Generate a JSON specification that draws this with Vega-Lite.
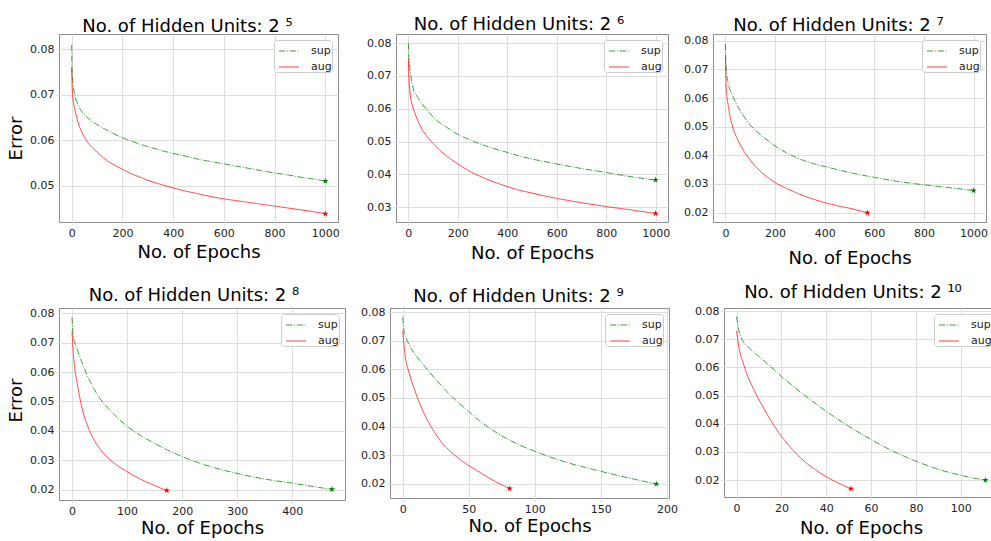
{
  "$schema": "https://vega.github.io/schema/vega-lite/v6.json",
  "padding": {"left": 7, "top": 15, "right": 0, "bottom": 0},
  "config": {
    "font": "DejaVu Sans",
    "view": {"stroke": "#8c8c8c", "strokeWidth": 1},
    "axis": {
      "domain": false,
      "grid": true,
      "gridColor": "#dedede",
      "gridWidth": 1,
      "ticks": true,
      "tickColor": "#dedede",
      "tickSize": 3,
      "tickCount": 12,
      "labelFontSize": 11,
      "labelColor": "#222222",
      "labelPadding": 2,
      "labelOverlap": false,
      "titleFontSize": 18,
      "titleFontWeight": "normal",
      "titleColor": "#000000"
    },
    "axisX": {"format": "d"},
    "axisY": {"titlePadding": 4, "format": ".2f"},
    "title": {"fontSize": 18, "fontWeight": "normal", "color": "#000000", "anchor": "middle", "frame": "group", "baseline": "alphabetic"},
    "legend": {
      "orient": "top-right",
      "offset": 6,
      "padding": 0,
      "rowPadding": -6,
      "symbolOffset": 4,
      "fillColor": "#ffffff",
      "strokeColor": "#cccccc",
      "cornerRadius": 3,
      "labelFontSize": 11,
      "labelColor": "#222222",
      "labelOffset": 11,
      "labelExpr": "datum.label + '  '",
      "symbolSize": 400,
      "symbolStrokeWidth": 1.2,
      "symbolOpacity": 0.75
    }
  },
  "datasets": {
    "p1": [
      {"epoch": 0, "error": 0.0810, "series": "sup"}, {"epoch": 2, "error": 0.0745, "series": "sup"}, {"epoch": 5, "error": 0.0725, "series": "sup"}, {"epoch": 10, "error": 0.0706, "series": "sup"}, {"epoch": 15, "error": 0.0693, "series": "sup"}, {"epoch": 20, "error": 0.0685, "series": "sup"}, {"epoch": 30, "error": 0.0672, "series": "sup"}, {"epoch": 46, "error": 0.0659, "series": "sup"}, {"epoch": 70, "error": 0.0646, "series": "sup"}, {"epoch": 111, "error": 0.0631, "series": "sup"}, {"epoch": 150, "error": 0.0619, "series": "sup"}, {"epoch": 190, "error": 0.0608, "series": "sup"}, {"epoch": 250, "error": 0.0595, "series": "sup"}, {"epoch": 300, "error": 0.0586, "series": "sup"}, {"epoch": 350, "error": 0.0578, "series": "sup"}, {"epoch": 400, "error": 0.0571, "series": "sup"}, {"epoch": 450, "error": 0.0565, "series": "sup"}, {"epoch": 500, "error": 0.0558, "series": "sup"}, {"epoch": 550, "error": 0.0553, "series": "sup"}, {"epoch": 600, "error": 0.0548, "series": "sup"}, {"epoch": 650, "error": 0.0543, "series": "sup"}, {"epoch": 700, "error": 0.0538, "series": "sup"}, {"epoch": 750, "error": 0.0533, "series": "sup"}, {"epoch": 800, "error": 0.0528, "series": "sup"}, {"epoch": 850, "error": 0.0524, "series": "sup"}, {"epoch": 900, "error": 0.0519, "series": "sup"}, {"epoch": 950, "error": 0.0515, "series": "sup"}, {"epoch": 1000, "error": 0.0510, "series": "sup"},
      {"epoch": 0, "error": 0.0760, "series": "aug"}, {"epoch": 2, "error": 0.0715, "series": "aug"}, {"epoch": 4, "error": 0.0696, "series": "aug"}, {"epoch": 8, "error": 0.0680, "series": "aug"}, {"epoch": 13, "error": 0.0666, "series": "aug"}, {"epoch": 20, "error": 0.0650, "series": "aug"}, {"epoch": 26, "error": 0.0637, "series": "aug"}, {"epoch": 35, "error": 0.0624, "series": "aug"}, {"epoch": 46, "error": 0.0611, "series": "aug"}, {"epoch": 60, "error": 0.0598, "series": "aug"}, {"epoch": 72, "error": 0.0589, "series": "aug"}, {"epoch": 98, "error": 0.0575, "series": "aug"}, {"epoch": 120, "error": 0.0564, "series": "aug"}, {"epoch": 137, "error": 0.0556, "series": "aug"}, {"epoch": 170, "error": 0.0545, "series": "aug"}, {"epoch": 200, "error": 0.0536, "series": "aug"}, {"epoch": 250, "error": 0.0523, "series": "aug"}, {"epoch": 300, "error": 0.0512, "series": "aug"}, {"epoch": 350, "error": 0.0503, "series": "aug"}, {"epoch": 400, "error": 0.0495, "series": "aug"}, {"epoch": 450, "error": 0.0488, "series": "aug"}, {"epoch": 500, "error": 0.0482, "series": "aug"}, {"epoch": 550, "error": 0.0476, "series": "aug"}, {"epoch": 600, "error": 0.0471, "series": "aug"}, {"epoch": 650, "error": 0.0467, "series": "aug"}, {"epoch": 700, "error": 0.0463, "series": "aug"}, {"epoch": 750, "error": 0.0459, "series": "aug"}, {"epoch": 800, "error": 0.0455, "series": "aug"}, {"epoch": 850, "error": 0.0451, "series": "aug"}, {"epoch": 900, "error": 0.0447, "series": "aug"}, {"epoch": 950, "error": 0.0443, "series": "aug"}, {"epoch": 1000, "error": 0.0438, "series": "aug"}
    ],
    "p2": [
      {"epoch": 0, "error": 0.0800, "series": "sup"}, {"epoch": 2, "error": 0.0760, "series": "sup"}, {"epoch": 5, "error": 0.0732, "series": "sup"}, {"epoch": 10, "error": 0.0700, "series": "sup"}, {"epoch": 20, "error": 0.0661, "series": "sup"}, {"epoch": 35, "error": 0.0638, "series": "sup"}, {"epoch": 50, "error": 0.0621, "series": "sup"}, {"epoch": 75, "error": 0.0597, "series": "sup"}, {"epoch": 100, "error": 0.0575, "series": "sup"}, {"epoch": 150, "error": 0.0546, "series": "sup"}, {"epoch": 200, "error": 0.0522, "series": "sup"}, {"epoch": 250, "error": 0.0505, "series": "sup"}, {"epoch": 300, "error": 0.0490, "series": "sup"}, {"epoch": 350, "error": 0.0478, "series": "sup"}, {"epoch": 400, "error": 0.0467, "series": "sup"}, {"epoch": 450, "error": 0.0456, "series": "sup"}, {"epoch": 500, "error": 0.0447, "series": "sup"}, {"epoch": 600, "error": 0.0432, "series": "sup"}, {"epoch": 700, "error": 0.0418, "series": "sup"}, {"epoch": 800, "error": 0.0406, "series": "sup"}, {"epoch": 900, "error": 0.0393, "series": "sup"}, {"epoch": 1000, "error": 0.0383, "series": "sup"},
      {"epoch": 0, "error": 0.0752, "series": "aug"}, {"epoch": 3, "error": 0.0682, "series": "aug"}, {"epoch": 6, "error": 0.0655, "series": "aug"}, {"epoch": 10, "error": 0.0631, "series": "aug"}, {"epoch": 17, "error": 0.0608, "series": "aug"}, {"epoch": 25, "error": 0.0590, "series": "aug"}, {"epoch": 35, "error": 0.0570, "series": "aug"}, {"epoch": 50, "error": 0.0545, "series": "aug"}, {"epoch": 75, "error": 0.0516, "series": "aug"}, {"epoch": 100, "error": 0.0494, "series": "aug"}, {"epoch": 125, "error": 0.0475, "series": "aug"}, {"epoch": 150, "error": 0.0459, "series": "aug"}, {"epoch": 175, "error": 0.0445, "series": "aug"}, {"epoch": 200, "error": 0.0432, "series": "aug"}, {"epoch": 250, "error": 0.0409, "series": "aug"}, {"epoch": 300, "error": 0.0391, "series": "aug"}, {"epoch": 350, "error": 0.0376, "series": "aug"}, {"epoch": 400, "error": 0.0363, "series": "aug"}, {"epoch": 450, "error": 0.0352, "series": "aug"}, {"epoch": 500, "error": 0.0343, "series": "aug"}, {"epoch": 600, "error": 0.0327, "series": "aug"}, {"epoch": 700, "error": 0.0314, "series": "aug"}, {"epoch": 800, "error": 0.0302, "series": "aug"}, {"epoch": 900, "error": 0.0292, "series": "aug"}, {"epoch": 1000, "error": 0.0281, "series": "aug"}
    ],
    "p3": [
      {"epoch": 0, "error": 0.0790, "series": "sup"}, {"epoch": 2, "error": 0.0720, "series": "sup"}, {"epoch": 5, "error": 0.0687, "series": "sup"}, {"epoch": 12, "error": 0.0650, "series": "sup"}, {"epoch": 25, "error": 0.0617, "series": "sup"}, {"epoch": 50, "error": 0.0570, "series": "sup"}, {"epoch": 75, "error": 0.0535, "series": "sup"}, {"epoch": 100, "error": 0.0506, "series": "sup"}, {"epoch": 150, "error": 0.0466, "series": "sup"}, {"epoch": 200, "error": 0.0433, "series": "sup"}, {"epoch": 250, "error": 0.0407, "series": "sup"}, {"epoch": 300, "error": 0.0387, "series": "sup"}, {"epoch": 350, "error": 0.0372, "series": "sup"}, {"epoch": 400, "error": 0.0361, "series": "sup"}, {"epoch": 450, "error": 0.0350, "series": "sup"}, {"epoch": 500, "error": 0.0340, "series": "sup"}, {"epoch": 600, "error": 0.0323, "series": "sup"}, {"epoch": 700, "error": 0.0308, "series": "sup"}, {"epoch": 800, "error": 0.0297, "series": "sup"}, {"epoch": 900, "error": 0.0287, "series": "sup"}, {"epoch": 1000, "error": 0.0277, "series": "sup"},
      {"epoch": 0, "error": 0.0745, "series": "aug"}, {"epoch": 3, "error": 0.0640, "series": "aug"}, {"epoch": 6, "error": 0.0605, "series": "aug"}, {"epoch": 10, "error": 0.0582, "series": "aug"}, {"epoch": 17, "error": 0.0543, "series": "aug"}, {"epoch": 25, "error": 0.0512, "series": "aug"}, {"epoch": 35, "error": 0.0484, "series": "aug"}, {"epoch": 50, "error": 0.0454, "series": "aug"}, {"epoch": 75, "error": 0.0414, "series": "aug"}, {"epoch": 100, "error": 0.0384, "series": "aug"}, {"epoch": 125, "error": 0.0358, "series": "aug"}, {"epoch": 150, "error": 0.0337, "series": "aug"}, {"epoch": 175, "error": 0.0320, "series": "aug"}, {"epoch": 200, "error": 0.0305, "series": "aug"}, {"epoch": 250, "error": 0.0283, "series": "aug"}, {"epoch": 300, "error": 0.0264, "series": "aug"}, {"epoch": 350, "error": 0.0248, "series": "aug"}, {"epoch": 400, "error": 0.0235, "series": "aug"}, {"epoch": 450, "error": 0.0224, "series": "aug"}, {"epoch": 500, "error": 0.0215, "series": "aug"}, {"epoch": 572, "error": 0.0199, "series": "aug"}
    ],
    "p4": [
      {"epoch": 0, "error": 0.0785, "series": "sup"}, {"epoch": 2, "error": 0.0724, "series": "sup"}, {"epoch": 5, "error": 0.0700, "series": "sup"}, {"epoch": 10, "error": 0.0674, "series": "sup"}, {"epoch": 17, "error": 0.0637, "series": "sup"}, {"epoch": 25, "error": 0.0600, "series": "sup"}, {"epoch": 35, "error": 0.0560, "series": "sup"}, {"epoch": 50, "error": 0.0512, "series": "sup"}, {"epoch": 75, "error": 0.0459, "series": "sup"}, {"epoch": 100, "error": 0.0416, "series": "sup"}, {"epoch": 125, "error": 0.0384, "series": "sup"}, {"epoch": 150, "error": 0.0358, "series": "sup"}, {"epoch": 175, "error": 0.0334, "series": "sup"}, {"epoch": 200, "error": 0.0313, "series": "sup"}, {"epoch": 250, "error": 0.0280, "series": "sup"}, {"epoch": 300, "error": 0.0256, "series": "sup"}, {"epoch": 350, "error": 0.0237, "series": "sup"}, {"epoch": 400, "error": 0.0223, "series": "sup"}, {"epoch": 440, "error": 0.0211, "series": "sup"}, {"epoch": 472, "error": 0.0202, "series": "sup"},
      {"epoch": 0, "error": 0.0737, "series": "aug"}, {"epoch": 3, "error": 0.0650, "series": "aug"}, {"epoch": 5, "error": 0.0612, "series": "aug"}, {"epoch": 10, "error": 0.0555, "series": "aug"}, {"epoch": 15, "error": 0.0505, "series": "aug"}, {"epoch": 20, "error": 0.0465, "series": "aug"}, {"epoch": 30, "error": 0.0409, "series": "aug"}, {"epoch": 40, "error": 0.0370, "series": "aug"}, {"epoch": 50, "error": 0.0341, "series": "aug"}, {"epoch": 62, "error": 0.0315, "series": "aug"}, {"epoch": 75, "error": 0.0293, "series": "aug"}, {"epoch": 87, "error": 0.0277, "series": "aug"}, {"epoch": 100, "error": 0.0262, "series": "aug"}, {"epoch": 125, "error": 0.0236, "series": "aug"}, {"epoch": 150, "error": 0.0215, "series": "aug"}, {"epoch": 172, "error": 0.0198, "series": "aug"}
    ],
    "p5": [
      {"epoch": 0, "error": 0.0782, "series": "sup"}, {"epoch": 1, "error": 0.0736, "series": "sup"}, {"epoch": 3, "error": 0.0705, "series": "sup"}, {"epoch": 5, "error": 0.0684, "series": "sup"}, {"epoch": 10, "error": 0.0649, "series": "sup"}, {"epoch": 15, "error": 0.0620, "series": "sup"}, {"epoch": 20, "error": 0.0592, "series": "sup"}, {"epoch": 30, "error": 0.0539, "series": "sup"}, {"epoch": 40, "error": 0.0493, "series": "sup"}, {"epoch": 50, "error": 0.0453, "series": "sup"}, {"epoch": 60, "error": 0.0414, "series": "sup"}, {"epoch": 75, "error": 0.0368, "series": "sup"}, {"epoch": 90, "error": 0.0333, "series": "sup"}, {"epoch": 100, "error": 0.0314, "series": "sup"}, {"epoch": 125, "error": 0.0274, "series": "sup"}, {"epoch": 150, "error": 0.0244, "series": "sup"}, {"epoch": 175, "error": 0.0217, "series": "sup"}, {"epoch": 192, "error": 0.0200, "series": "sup"},
      {"epoch": 0, "error": 0.0735, "series": "aug"}, {"epoch": 2, "error": 0.0644, "series": "aug"}, {"epoch": 5, "error": 0.0586, "series": "aug"}, {"epoch": 10, "error": 0.0516, "series": "aug"}, {"epoch": 15, "error": 0.0458, "series": "aug"}, {"epoch": 20, "error": 0.0412, "series": "aug"}, {"epoch": 25, "error": 0.0374, "series": "aug"}, {"epoch": 30, "error": 0.0342, "series": "aug"}, {"epoch": 35, "error": 0.0318, "series": "aug"}, {"epoch": 40, "error": 0.0298, "series": "aug"}, {"epoch": 45, "error": 0.0280, "series": "aug"}, {"epoch": 50, "error": 0.0264, "series": "aug"}, {"epoch": 55, "error": 0.0250, "series": "aug"}, {"epoch": 60, "error": 0.0236, "series": "aug"}, {"epoch": 65, "error": 0.0222, "series": "aug"}, {"epoch": 70, "error": 0.0209, "series": "aug"}, {"epoch": 75, "error": 0.0197, "series": "aug"}, {"epoch": 81, "error": 0.0184, "series": "aug"}
    ],
    "p6": [
      {"epoch": 0, "error": 0.0780, "series": "sup"}, {"epoch": 1, "error": 0.0733, "series": "sup"}, {"epoch": 3, "error": 0.0692, "series": "sup"}, {"epoch": 5, "error": 0.0674, "series": "sup"}, {"epoch": 10, "error": 0.0639, "series": "sup"}, {"epoch": 15, "error": 0.0604, "series": "sup"}, {"epoch": 20, "error": 0.0568, "series": "sup"}, {"epoch": 25, "error": 0.0535, "series": "sup"}, {"epoch": 30, "error": 0.0503, "series": "sup"}, {"epoch": 35, "error": 0.0473, "series": "sup"}, {"epoch": 40, "error": 0.0444, "series": "sup"}, {"epoch": 45, "error": 0.0417, "series": "sup"}, {"epoch": 50, "error": 0.0391, "series": "sup"}, {"epoch": 55, "error": 0.0367, "series": "sup"}, {"epoch": 60, "error": 0.0344, "series": "sup"}, {"epoch": 65, "error": 0.0322, "series": "sup"}, {"epoch": 70, "error": 0.0302, "series": "sup"}, {"epoch": 75, "error": 0.0284, "series": "sup"}, {"epoch": 80, "error": 0.0267, "series": "sup"}, {"epoch": 85, "error": 0.0252, "series": "sup"}, {"epoch": 90, "error": 0.0238, "series": "sup"}, {"epoch": 95, "error": 0.0227, "series": "sup"}, {"epoch": 100, "error": 0.0217, "series": "sup"}, {"epoch": 105, "error": 0.0208, "series": "sup"}, {"epoch": 111, "error": 0.0200, "series": "sup"},
      {"epoch": 0, "error": 0.0730, "series": "aug"}, {"epoch": 1, "error": 0.0674, "series": "aug"}, {"epoch": 3, "error": 0.0615, "series": "aug"}, {"epoch": 5, "error": 0.0568, "series": "aug"}, {"epoch": 7, "error": 0.0533, "series": "aug"}, {"epoch": 10, "error": 0.0485, "series": "aug"}, {"epoch": 12, "error": 0.0457, "series": "aug"}, {"epoch": 15, "error": 0.0415, "series": "aug"}, {"epoch": 17, "error": 0.0390, "series": "aug"}, {"epoch": 20, "error": 0.0356, "series": "aug"}, {"epoch": 25, "error": 0.0308, "series": "aug"}, {"epoch": 30, "error": 0.0268, "series": "aug"}, {"epoch": 35, "error": 0.0238, "series": "aug"}, {"epoch": 40, "error": 0.0212, "series": "aug"}, {"epoch": 45, "error": 0.0191, "series": "aug"}, {"epoch": 51, "error": 0.0169, "series": "aug"}
    ]
  },
  "spacing": 15,
  "resolve": {
    "scale": {"x": "independent", "y": "independent", "color": "independent", "strokeDash": "independent", "fill": "independent"},
    "legend": {"color": "independent", "strokeDash": "independent"}
  },
  "vconcat": [
    {
      "spacing": 26,
      "resolve": {
        "scale": {"x": "independent", "y": "independent", "color": "independent", "strokeDash": "independent", "fill": "independent"},
        "legend": {"color": "independent", "strokeDash": "independent"}
      },
      "hconcat": [
        {
          "width": 279, "height": 188,
          "title": {"text": "No. of Hidden Units: 2 ⁵", "dx": -11, "offset": -2},
          "data": {"name": "p1"},
          "layer": [
            {
              "mark": {"type": "line", "strokeWidth": 1, "opacity": 0.75, "interpolate": "monotone"},
              "encoding": {
                "x": {"field": "epoch", "type": "quantitative", "scale": {"domain": [-50, 1050], "nice": false, "zero": false}, "axis": {"values": [0, 200, 400, 600, 800, 1000], "tickCount": 12, "title": "No. of Epochs", "titlePadding": 5}},
                "y": {"field": "error", "type": "quantitative", "scale": {"domain": [0.0420, 0.0834], "nice": false, "zero": false}, "axis": {"values": [0.05, 0.06, 0.07, 0.08], "tickCount": 12, "title": "Error", "titleY": 104}},
                "color": {"field": "series", "type": "nominal", "scale": {"domain": ["sup", "aug"], "range": ["#008000", "#ff0000"]}, "legend": {"title": null}},
                "strokeDash": {"field": "series", "type": "nominal", "scale": {"domain": ["sup", "aug"], "range": [[6.4, 1.6, 1, 1.6], [1, 0]]}, "legend": {"title": null}}
              }
            },
            {
              "transform": [
                {"joinaggregate": [{"op": "max", "field": "epoch", "as": "last"}], "groupby": ["series"]},
                {"filter": "datum.epoch === datum.last"}
              ],
              "mark": {"type": "point", "shape": "M0,-1L0.2245,-0.309L0.951,-0.309L0.363,0.118L0.588,0.809L0,0.382L-0.588,0.809L-0.363,0.118L-0.951,-0.309L-0.2245,-0.309Z", "filled": true, "size": 45, "opacity": 1},
              "encoding": {
                "x": {"field": "epoch", "type": "quantitative"},
                "y": {"field": "error", "type": "quantitative"},
                "fill": {"field": "series", "type": "nominal", "scale": {"domain": ["sup", "aug"], "range": ["#008000", "#ff0000"]}, "legend": null}
              }
            }
          ]
        },
        {
          "spacing": 45,
          "bounds": "flush",
          "resolve": {
            "scale": {"x": "independent", "y": "independent", "color": "independent", "strokeDash": "independent", "fill": "independent"},
            "legend": {"color": "independent", "strokeDash": "independent"}
          },
          "hconcat": [
            {
              "width": 272, "height": 188,
              "title": {"text": "No. of Hidden Units: 2 ⁶", "dx": -13, "offset": -0.3},
              "data": {"name": "p2"},
              "layer": [
                {
                  "mark": {"type": "line", "strokeWidth": 1, "opacity": 0.75, "interpolate": "monotone"},
                  "encoding": {
                    "x": {"field": "epoch", "type": "quantitative", "scale": {"domain": [-50, 1050], "nice": false, "zero": false}, "axis": {"values": [0, 200, 400, 600, 800, 1000], "tickCount": 12, "title": "No. of Epochs", "titlePadding": 6}},
                    "y": {"field": "error", "type": "quantitative", "scale": {"domain": [0.0255, 0.0828], "nice": false, "zero": false}, "axis": {"values": [0.03, 0.04, 0.05, 0.06, 0.07, 0.08], "tickCount": 12, "title": null}},
                    "color": {"field": "series", "type": "nominal", "scale": {"domain": ["sup", "aug"], "range": ["#008000", "#ff0000"]}, "legend": {"title": null}},
                    "strokeDash": {"field": "series", "type": "nominal", "scale": {"domain": ["sup", "aug"], "range": [[6.4, 1.6, 1, 1.6], [1, 0]]}, "legend": {"title": null}}
                  }
                },
                {
                  "transform": [
                    {"joinaggregate": [{"op": "max", "field": "epoch", "as": "last"}], "groupby": ["series"]},
                    {"filter": "datum.epoch === datum.last"}
                  ],
                  "mark": {"type": "point", "shape": "M0,-1L0.2245,-0.309L0.951,-0.309L0.363,0.118L0.588,0.809L0,0.382L-0.588,0.809L-0.363,0.118L-0.951,-0.309L-0.2245,-0.309Z", "filled": true, "size": 45, "opacity": 1},
                  "encoding": {
                    "x": {"field": "epoch", "type": "quantitative"},
                    "y": {"field": "error", "type": "quantitative"},
                    "fill": {"field": "series", "type": "nominal", "scale": {"domain": ["sup", "aug"], "range": ["#008000", "#ff0000"]}, "legend": null}
                  }
                }
              ]
            },
            {
              "width": 273, "height": 188,
              "title": {"text": "No. of Hidden Units: 2 ⁷", "dx": -11, "offset": -1.3},
              "data": {"name": "p3"},
              "layer": [
                {
                  "mark": {"type": "line", "strokeWidth": 1, "opacity": 0.75, "interpolate": "monotone"},
                  "encoding": {
                    "x": {"field": "epoch", "type": "quantitative", "scale": {"domain": [-50, 1050], "nice": false, "zero": false}, "axis": {"values": [0, 200, 400, 600, 800, 1000], "tickCount": 12, "title": "No. of Epochs", "titlePadding": 11}},
                    "y": {"field": "error", "type": "quantitative", "scale": {"domain": [0.0167, 0.0824], "nice": false, "zero": false}, "axis": {"values": [0.02, 0.03, 0.04, 0.05, 0.06, 0.07, 0.08], "tickCount": 12, "title": null}},
                    "color": {"field": "series", "type": "nominal", "scale": {"domain": ["sup", "aug"], "range": ["#008000", "#ff0000"]}, "legend": {"title": null}},
                    "strokeDash": {"field": "series", "type": "nominal", "scale": {"domain": ["sup", "aug"], "range": [[6.4, 1.6, 1, 1.6], [1, 0]]}, "legend": {"title": null}}
                  }
                },
                {
                  "transform": [
                    {"joinaggregate": [{"op": "max", "field": "epoch", "as": "last"}], "groupby": ["series"]},
                    {"filter": "datum.epoch === datum.last"}
                  ],
                  "mark": {"type": "point", "shape": "M0,-1L0.2245,-0.309L0.951,-0.309L0.363,0.118L0.588,0.809L0,0.382L-0.588,0.809L-0.363,0.118L-0.951,-0.309L-0.2245,-0.309Z", "filled": true, "size": 45, "opacity": 1},
                  "encoding": {
                    "x": {"field": "epoch", "type": "quantitative"},
                    "y": {"field": "error", "type": "quantitative"},
                    "fill": {"field": "series", "type": "nominal", "scale": {"domain": ["sup", "aug"], "range": ["#008000", "#ff0000"]}, "legend": null}
                  }
                }
              ]
            }
          ]
        }
      ]
    },
    {
      "spacing": 14,
      "resolve": {
        "scale": {"x": "independent", "y": "independent", "color": "independent", "strokeDash": "independent", "fill": "independent"},
        "legend": {"color": "independent", "strokeDash": "independent"}
      },
      "hconcat": [
        {
          "width": 286, "height": 192,
          "title": {"text": "No. of Hidden Units: 2 ⁸", "dx": -8, "offset": 2},
          "data": {"name": "p4"},
          "layer": [
            {
              "mark": {"type": "line", "strokeWidth": 1, "opacity": 0.75, "interpolate": "monotone"},
              "encoding": {
                "x": {"field": "epoch", "type": "quantitative", "scale": {"domain": [-23.6, 495.6], "nice": false, "zero": false}, "axis": {"values": [0, 100, 200, 300, 400], "tickCount": 12, "title": "No. of Epochs", "titlePadding": 3}},
                "y": {"field": "error", "type": "quantitative", "scale": {"domain": [0.0166, 0.0817], "nice": false, "zero": false}, "axis": {"values": [0.02, 0.03, 0.04, 0.05, 0.06, 0.07, 0.08], "tickCount": 12, "title": "Error", "titleY": 92}},
                "color": {"field": "series", "type": "nominal", "scale": {"domain": ["sup", "aug"], "range": ["#008000", "#ff0000"]}, "legend": {"title": null}},
                "strokeDash": {"field": "series", "type": "nominal", "scale": {"domain": ["sup", "aug"], "range": [[6.4, 1.6, 1, 1.6], [1, 0]]}, "legend": {"title": null}}
              }
            },
            {
              "transform": [
                {"joinaggregate": [{"op": "max", "field": "epoch", "as": "last"}], "groupby": ["series"]},
                {"filter": "datum.epoch === datum.last"}
              ],
              "mark": {"type": "point", "shape": "M0,-1L0.2245,-0.309L0.951,-0.309L0.363,0.118L0.588,0.809L0,0.382L-0.588,0.809L-0.363,0.118L-0.951,-0.309L-0.2245,-0.309Z", "filled": true, "size": 45, "opacity": 1},
              "encoding": {
                "x": {"field": "epoch", "type": "quantitative"},
                "y": {"field": "error", "type": "quantitative"},
                "fill": {"field": "series", "type": "nominal", "scale": {"domain": ["sup", "aug"], "range": ["#008000", "#ff0000"]}, "legend": null}
              }
            }
          ]
        },
        {
          "spacing": 55,
          "bounds": "flush",
          "resolve": {
            "scale": {"x": "independent", "y": "independent", "color": "independent", "strokeDash": "independent", "fill": "independent"},
            "legend": {"color": "independent", "strokeDash": "independent"}
          },
          "hconcat": [
            {
              "width": 279, "height": 190,
              "title": {"text": "No. of Hidden Units: 2 ⁹", "dx": -11, "offset": 0.3},
              "data": {"name": "p5"},
              "layer": [
                {
                  "mark": {"type": "line", "strokeWidth": 1, "opacity": 0.75, "interpolate": "monotone"},
                  "encoding": {
                    "x": {"field": "epoch", "type": "quantitative", "scale": {"domain": [-9.6, 201.6], "nice": false, "zero": false}, "axis": {"values": [0, 50, 100, 150, 200], "tickCount": 12, "title": "No. of Epochs", "titlePadding": 3}},
                    "y": {"field": "error", "type": "quantitative", "scale": {"domain": [0.0151, 0.0814], "nice": false, "zero": false}, "axis": {"values": [0.02, 0.03, 0.04, 0.05, 0.06, 0.07, 0.08], "tickCount": 12, "title": null}},
                    "color": {"field": "series", "type": "nominal", "scale": {"domain": ["sup", "aug"], "range": ["#008000", "#ff0000"]}, "legend": {"title": null}},
                    "strokeDash": {"field": "series", "type": "nominal", "scale": {"domain": ["sup", "aug"], "range": [[6.4, 1.6, 1, 1.6], [1, 0]]}, "legend": {"title": null}}
                  }
                },
                {
                  "transform": [
                    {"joinaggregate": [{"op": "max", "field": "epoch", "as": "last"}], "groupby": ["series"]},
                    {"filter": "datum.epoch === datum.last"}
                  ],
                  "mark": {"type": "point", "shape": "M0,-1L0.2245,-0.309L0.951,-0.309L0.363,0.118L0.588,0.809L0,0.382L-0.588,0.809L-0.363,0.118L-0.951,-0.309L-0.2245,-0.309Z", "filled": true, "size": 45, "opacity": 1},
                  "encoding": {
                    "x": {"field": "epoch", "type": "quantitative"},
                    "y": {"field": "error", "type": "quantitative"},
                    "fill": {"field": "series", "type": "nominal", "scale": {"domain": ["sup", "aug"], "range": ["#008000", "#ff0000"]}, "legend": null}
                  }
                }
              ]
            },
            {
              "width": 274, "height": 189,
              "title": {"text": "No. of Hidden Units: 2 ¹⁰", "dx": -8, "offset": 2.7},
              "data": {"name": "p6"},
              "layer": [
                {
                  "mark": {"type": "line", "strokeWidth": 1, "opacity": 0.75, "interpolate": "monotone"},
                  "encoding": {
                    "x": {"field": "epoch", "type": "quantitative", "scale": {"domain": [-5.6, 116.6], "nice": false, "zero": false}, "axis": {"values": [0, 20, 40, 60, 80, 100], "tickCount": 12, "title": "No. of Epochs", "titlePadding": 6}},
                    "y": {"field": "error", "type": "quantitative", "scale": {"domain": [0.0140, 0.0811], "nice": false, "zero": false}, "axis": {"values": [0.02, 0.03, 0.04, 0.05, 0.06, 0.07, 0.08], "tickCount": 12, "title": null}},
                    "color": {"field": "series", "type": "nominal", "scale": {"domain": ["sup", "aug"], "range": ["#008000", "#ff0000"]}, "legend": {"title": null}},
                    "strokeDash": {"field": "series", "type": "nominal", "scale": {"domain": ["sup", "aug"], "range": [[6.4, 1.6, 1, 1.6], [1, 0]]}, "legend": {"title": null}}
                  }
                },
                {
                  "transform": [
                    {"joinaggregate": [{"op": "max", "field": "epoch", "as": "last"}], "groupby": ["series"]},
                    {"filter": "datum.epoch === datum.last"}
                  ],
                  "mark": {"type": "point", "shape": "M0,-1L0.2245,-0.309L0.951,-0.309L0.363,0.118L0.588,0.809L0,0.382L-0.588,0.809L-0.363,0.118L-0.951,-0.309L-0.2245,-0.309Z", "filled": true, "size": 45, "opacity": 1},
                  "encoding": {
                    "x": {"field": "epoch", "type": "quantitative"},
                    "y": {"field": "error", "type": "quantitative"},
                    "fill": {"field": "series", "type": "nominal", "scale": {"domain": ["sup", "aug"], "range": ["#008000", "#ff0000"]}, "legend": null}
                  }
                }
              ]
            }
          ]
        }
      ]
    }
  ]
}
